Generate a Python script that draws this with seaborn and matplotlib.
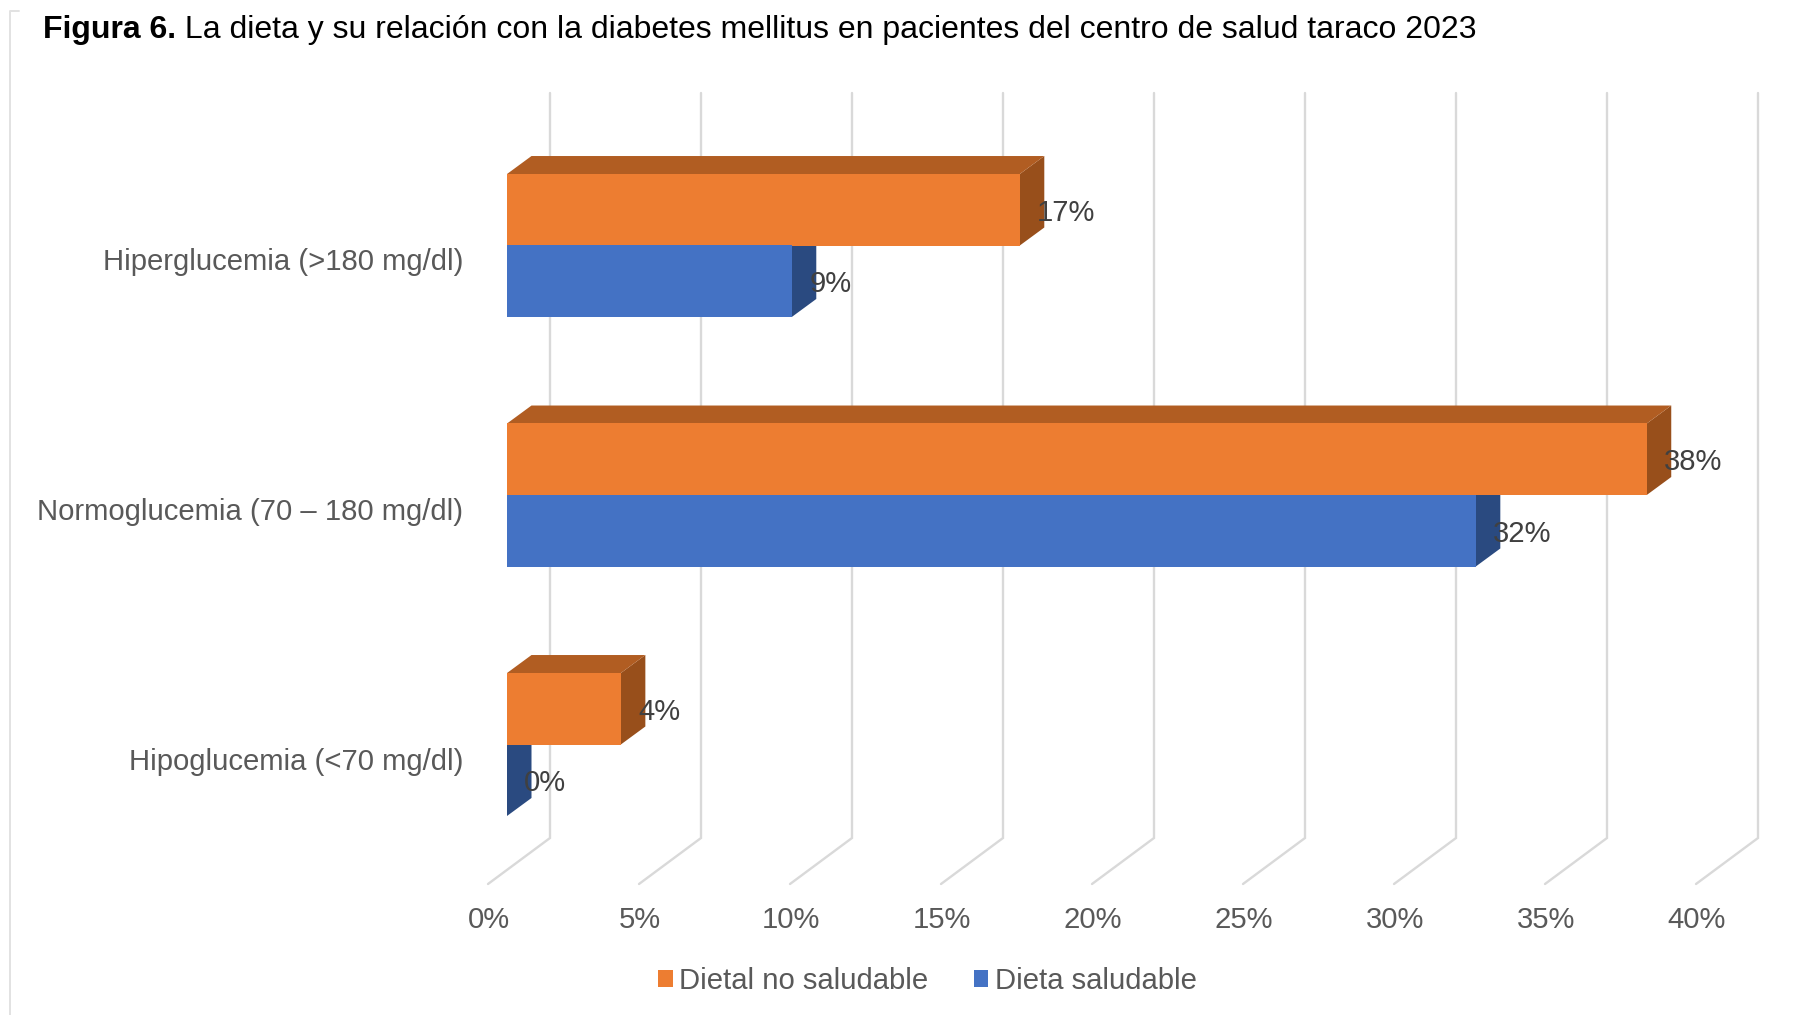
import matplotlib
matplotlib.use("Agg")
import matplotlib.pyplot as plt
import matplotlib.transforms as mtrans
import pandas as pd
import seaborn as sns

# Values (percent of patients)
categories = ["Hiperglucemia (>180 mg/dl)", "Normoglucemia (70 – 180 mg/dl)", "Hipoglucemia (<70 mg/dl)"]
no_saludable = [16.98, 37.74, 3.77]
saludable = [9.43, 32.08, 0.0]
series_names = ["Dietal no saludable", "Dieta saludable"]
xticks = [0, 5, 10, 15, 20, 25, 30, 35, 40]

colors = {"Dietal no saludable": "#ED7D31", "Dieta saludable": "#4472C4"}
side_colors = {"Dietal no saludable": "#984F1B", "Dieta saludable": "#2A4A80"}
top_color = "#B15D22"
grid_color = "#D9D9D9"
label_color = "#595959"
value_color = "#404040"

W, H = 1818, 1015
FS = 21.1
TITLE_FS = 23

df = pd.DataFrame({
    "cat": categories * 2,
    "val": no_saludable + saludable,
    "serie": [series_names[0]] * 3 + [series_names[1]] * 3,
})

sns.set_theme(style="white")
plt.rcParams["font.family"] = ["Liberation Sans", "DejaVu Sans"]

fig = plt.figure(figsize=(W / 100, H / 100), dpi=100)

# Axes placed by pixels, 0% at the front face of the bars
px_x = 151 / 5
px_y = 249.5
left, right, top, bottom = 507, 1758.6, 93, 884
ax = fig.add_axes([left / W, 1 - bottom / H, (right - left) / W, (bottom - top) / H])

sns.barplot(data=df, y="cat", x="val", hue="serie", hue_order=series_names,
            palette=colors, width=0.573, gap=0, linewidth=0, saturation=1,
            order=categories, ax=ax, zorder=5)

ax.set_xlim(0, (right - left) / px_x)
ax.set_ylim((bottom - 245.5) / px_y, (top - 245.5) / px_y)
ax.set_xlabel("")
ax.set_ylabel("")
sns.despine(ax=ax, left=True, bottom=True)

# 3D look: side and top faces taken from each bar patch
depth_x = 24.5 / px_x
depth_y = 18 / px_y
for cont, name in zip(ax.containers, series_names):
    base_z = 3 if name == series_names[0] else 2
    for p in cont:
        # no seam between the two bars of a group
        p.set_antialiased(False)
        p.set_snap(False)
        x0, w = p.get_x(), p.get_width()
        y0, y1 = p.get_y(), p.get_y() + p.get_height()
        xr = x0 + w
        ax.fill([xr, xr + depth_x, xr + depth_x, xr],
                [y0, y0 - depth_y, y1 - depth_y, y1],
                color=side_colors[name], lw=0, zorder=base_z)
        if name == series_names[0]:
            ax.fill([x0, x0 + depth_x, xr + depth_x, xr],
                    [y0, y0 - depth_y, y0 - depth_y, y0],
                    color=top_color, lw=0, zorder=base_z)
    for txt in ax.bar_label(cont, fmt="%.0f%%", padding=12.5, fontsize=FS, color=value_color, zorder=8):
        txt.xyann = (txt.xyann[0], txt.xyann[1] - 2.3)

# Gridlines on the back wall with a slanted foot on the floor
back_dx = 43 / px_x
floor_dx = -19 / px_x
back_y = (838 - 245.5) / px_y
for v in xticks:
    ax.plot([v + back_dx, v + back_dx, v + floor_dx],
            [ax.get_ylim()[1], back_y, ax.get_ylim()[0]],
            color=grid_color, lw=1.7, zorder=1, clip_on=False, solid_joinstyle="miter")

# Tick labels, shifted the way the 3D projection moves them
ax.set_xticks(xticks)
ax.set_xticklabels([f"{v}%" for v in xticks])
ax.tick_params(axis="x", length=0, pad=15.8, labelsize=FS, labelcolor=label_color)
ax.tick_params(axis="y", length=0, pad=31.5, labelsize=FS, labelcolor=label_color)
xshift = mtrans.ScaledTranslation(-18 / 100, 0, fig.dpi_scale_trans)
yshift = mtrans.ScaledTranslation(0, -14 / 100, fig.dpi_scale_trans)
for lab in ax.get_xticklabels():
    lab.set_transform(lab.get_transform() + xshift)
    lab.set_clip_on(False)
for lab in ax.get_yticklabels():
    lab.set_transform(lab.get_transform() + yshift)

# Legend below the chart
handles, labels = ax.get_legend_handles_labels()
ax.legend(handles, labels, loc="center", bbox_to_anchor=(927.5 / W, 1 - 981 / H),
          bbox_transform=fig.transFigure, ncol=2, frameon=False, fontsize=FS,
          labelcolor=label_color, handlelength=0.5, handleheight=0.5,
          handletextpad=0.22, columnspacing=1.55, borderpad=0, borderaxespad=0)

# Title in two weights
bold = fig.text(43 / W, 1 - 38 / H, "Figura 6.", fontsize=TITLE_FS, fontweight="bold",
                color="black", va="baseline", ha="left")
ax.annotate(" La dieta y su relación con la diabetes mellitus en pacientes del centro de salud taraco 2023",
            xy=(1, 0), xycoords=bold, fontsize=TITLE_FS, color="black", va="bottom", ha="left",
            annotation_clip=False)

# Remains of the chart border on the left and top
fig.add_artist(plt.Line2D([19 / W, 10 / W, 10 / W], [1 - 11 / H, 1 - 11 / H, 0],
                          color="#E2E2E2", lw=1.4, transform=fig.transFigure))

fig.savefig("out.png", dpi=100)
